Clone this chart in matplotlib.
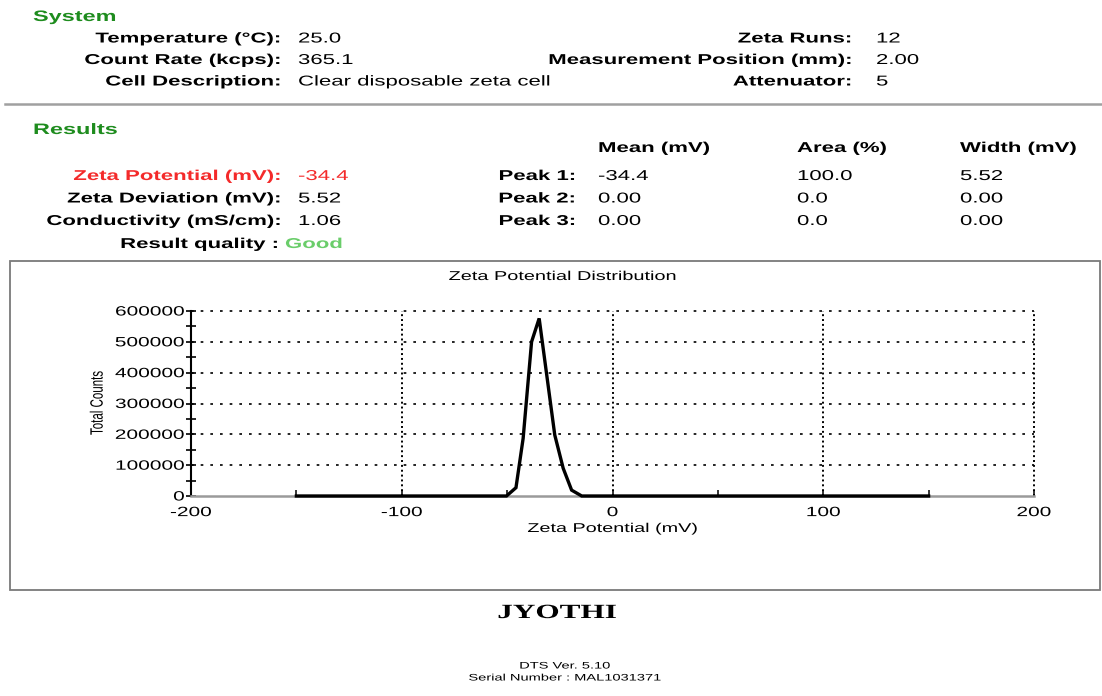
import matplotlib
matplotlib.use("Agg")
import matplotlib.pyplot as plt
from matplotlib.patches import Rectangle
from matplotlib.lines import Line2D
from matplotlib.ticker import MultipleLocator
from matplotlib.patheffects import AbstractPathEffect
from matplotlib.transforms import Affine2D

# ---- report data ----
system_left_labels = ["Temperature (\u00b0C):", "Count Rate (kcps):", "Cell Description:"]
system_left_values = ["25.0", "365.1", "Clear disposable zeta cell"]
system_right_labels = ["Zeta Runs:", "Measurement Position (mm):", "Attenuator:"]
system_right_values = ["12", "2.00", "5"]

result_labels = ["Zeta Potential (mV):", "Zeta Deviation (mV):", "Conductivity (mS/cm):"]
result_values = ["-34.4", "5.52", "1.06"]
quality = "Good"

peak_headers = ["Mean (mV)", "Area (%)", "Width (mV)"]
peak_names = ["Peak 1:", "Peak 2:", "Peak 3:"]
peak_mean = ["-34.4", "0.00", "0.00"]
peak_area = ["100.0", "0.0", "0.0"]
peak_width = ["5.52", "0.00", "0.00"]

# zeta potential distribution (mV, total counts)
zeta_mv = [-150, -50.3, -45.8, -42.4, -38.4, -34.8, -27.4, -23.4, -19.4, -14.6, 150]
counts = [0, 0, 27000, 187000, 500000, 576000, 198000, 90000, 19000, 0, 0]

y_ticks = [0, 100000, 200000, 300000, 400000, 500000, 600000]
x_ticks = [-200, -100, 0, 100, 200]

W, H = 1102, 696
STRETCH = 1.55  # the report uses a horizontally expanded typeface


class WideText(AbstractPathEffect):
    """Draw a text's glyphs expanded horizontally about its anchor point."""

    def __init__(self, text, sx):
        super().__init__()
        self.text = text
        self.sx = sx

    def draw_path(self, renderer, gc, tpath, affine, rgbFace=None):
        x0, _ = self.text.get_transform().transform(self.text.get_position())
        t = affine + Affine2D().translate(-x0, 0).scale(self.sx, 1).translate(x0, 0)
        renderer.draw_path(gc, tpath, t, rgbFace)


def widen(t, sx=STRETCH):
    t.set_path_effects([WideText(t, sx)])
    return t


fig = plt.figure(figsize=(W / 100, H / 100), dpi=100)
fig.patch.set_facecolor("white")

SANS = ["Liberation Sans", "DejaVu Sans"]
GREEN = "#1e8c1e"
RED = "#f42a2a"
LIGHT_GREEN = "#6acd6a"
BODY = 10.3


def put(x, y, s, ha="left", size=BODY, weight="normal", color="black", family=None):
    t = fig.text(x / W, 1 - y / H, s, ha=ha, va="center", fontsize=size,
                 fontweight=weight, color=color, family=family or SANS)
    return widen(t)


# ---- System block ----
put(33, 17, "System", size=10.9, weight="bold", color=GREEN)
for i, (lab, val) in enumerate(zip(system_left_labels, system_left_values)):
    y = 38.5 + i * 21.5
    put(281, y, lab, ha="right", weight="bold")
    put(298, y, val)
for i, (lab, val) in enumerate(zip(system_right_labels, system_right_values)):
    y = 38.5 + i * 21.5
    put(852, y, lab, ha="right", weight="bold")
    put(876, y, val)

fig.add_artist(Line2D([5 / W, 1.0], [1 - 104 / H, 1 - 104 / H],
                      color="#a0a0a0", lw=1.8, transform=fig.transFigure))

# ---- Results block ----
put(33, 130, "Results", size=10.9, weight="bold", color=GREEN)
for x, h in zip([598, 797, 960], peak_headers):
    put(x, 148, h, weight="bold")

row_y = [176, 198.5, 221]
for i, (lab, val) in enumerate(zip(result_labels, result_values)):
    c = RED if i == 0 else "black"
    put(281, row_y[i], lab, ha="right", weight="bold", color=c)
    put(298, row_y[i], val, color=c)
put(279, 244, "Result quality :", ha="right", weight="bold")
put(285, 244, quality, weight="bold", color=LIGHT_GREEN)

for i, name in enumerate(peak_names):
    put(576, row_y[i], name, ha="right", weight="bold")
    put(598, row_y[i], peak_mean[i])
    put(797, row_y[i], peak_area[i])
    put(960, row_y[i], peak_width[i])

# ---- chart panel ----
fig.add_artist(Rectangle((10 / W, 1 - 590 / H), (1100 - 10) / W, (590 - 261) / H,
                         fill=False, edgecolor="#7a7a7a", lw=1.3,
                         transform=fig.transFigure))
put(563, 277, "Zeta Potential Distribution", ha="center", size=9.25)

ax_l, ax_r, ax_t, ax_b = 191, 1034, 311, 496
ax = fig.add_axes([ax_l / W, 1 - ax_b / H, (ax_r - ax_l) / W, (ax_b - ax_t) / H])
ax.set_xlim(-200, 200)
ax.set_ylim(0, 600000)
ax.set_facecolor("none")

for s in ["top", "right"]:
    ax.spines[s].set_visible(False)
ax.spines["left"].set_color("black")
ax.spines["left"].set_linewidth(1.5)
ax.spines["bottom"].set_color("#9a9a9a")
ax.spines["bottom"].set_linewidth(1.8)

# dotted grid
for yv in y_ticks[1:]:
    ax.axhline(yv, color="black", lw=1.2, ls=(0, (1.6, 4.2)), zorder=1, clip_on=False)
for xv in x_ticks[1:]:
    ax.axvline(xv, color="black", lw=1.4, ls=(0, (1, 1.5)), zorder=1, clip_on=False)

ax.plot(zeta_mv, counts, color="black", lw=2.4, solid_joinstyle="miter", zorder=3,
        clip_on=False)

ax.set_yticks(y_ticks)
ax.set_yticklabels([str(v) for v in y_ticks])
ax.yaxis.set_minor_locator(MultipleLocator(50000))
ax.set_xticks(x_ticks)
ax.set_xticklabels([str(v) for v in x_ticks])
ax.xaxis.set_minor_locator(MultipleLocator(50))

ax.tick_params(axis="y", which="both", direction="inout", length=7, width=1.2,
               color="black", labelsize=9.7, pad=1)
ax.tick_params(axis="x", which="both", direction="in", length=4, width=1.1,
               color="black", labelsize=9.7, pad=8)

ax.set_xlabel("Zeta Potential (mV)", fontsize=9.2, family=SANS)
ax.set_ylabel("Total Counts", fontsize=8.3, family=SANS)
ax.xaxis.set_label_coords(0.5, -33 / 185)
ax.yaxis.set_label_coords(-93 / 843, 93 / 185)
ax.xaxis.label.set_va("center")
ax.yaxis.label.set_va("center")
widen(ax.xaxis.label)
widen(ax.yaxis.label)

# ---- footer ----
put(557, 613, "JYOTHI", ha="center", size=14.5, weight="bold",
    family=["Liberation Serif", "DejaVu Serif"])
put(565, 666, "DTS Ver. 5.10", ha="center", size=6.8)
put(565, 678, "Serial Number : MAL1031371", ha="center", size=6.8)

# tick labels exist once the figure has been laid out
fig.canvas.draw()
for lab in ax.get_xticklabels() + ax.get_yticklabels():
    lab.set_family(SANS)
    widen(lab)

fig.savefig("out.png", dpi=100)
